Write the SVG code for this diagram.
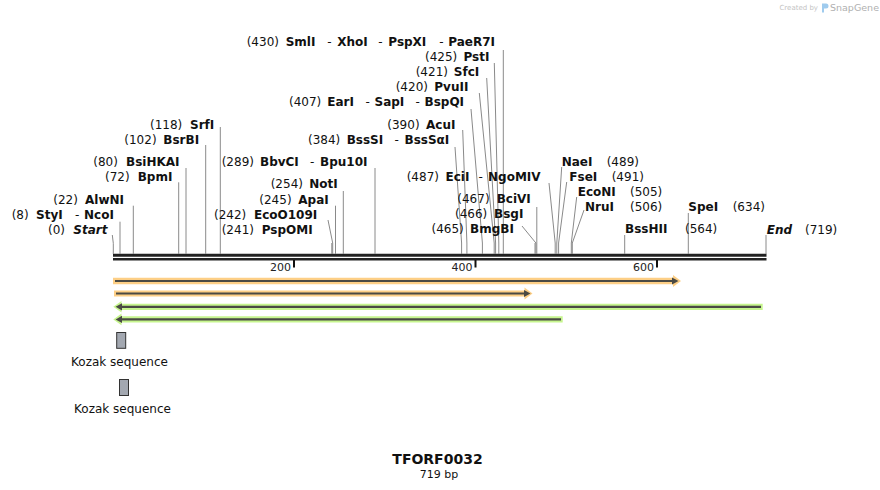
<svg xmlns="http://www.w3.org/2000/svg" width="880" height="490" viewBox="0 0 880 490">
<style>
text{font-family:"DejaVu Sans","Verdana",sans-serif;fill:#111}
.lb{font-size:12px}
.b{font-weight:bold}
.bi{font-weight:bold;font-style:italic}
.ax{font-size:11px;fill:#222}
.cn line,.cn polyline{stroke:#8a8a8a;stroke-width:1;fill:none}
.bb{stroke:#222}
.tick{stroke:#111;stroke-width:2}
.orng{fill:#fdcf86}
.grn{fill:#c6f58e}
.core{stroke:#4a4a44;stroke-width:2.2}
.coreh{fill:#4a4a44}
.koz{fill:#a3a8b1;stroke:#333;stroke-width:1}
.kt{font-size:12px;text-anchor:middle}
</style>

<!-- backbone -->
<g id="backbone">
<line class="bb" x1="113" y1="255.3" x2="766.5" y2="255.3" stroke-width="3"/>
<line class="bb" x1="113" y1="259.3" x2="766.5" y2="259.3" stroke-width="2.4"/>
<line class="tick" x1="294" y1="260" x2="294" y2="267.5"/>
<line class="tick" x1="475.5" y1="260" x2="475.5" y2="267.5"/>
<line class="tick" x1="657" y1="260" x2="657" y2="267.5"/>
<text class="ax" x="291" y="271" text-anchor="end">200</text>
<text class="ax" x="472.5" y="271" text-anchor="end">400</text>
<text class="ax" x="654" y="271" text-anchor="end">600</text>
</g>

<!-- connectors -->
<g id="connectors" class="cn">
<polyline points="112.3,235 113.3,243.3 113.3,254"/>
<line x1="120" y1="221.7" x2="120" y2="254"/>
<line x1="133.3" y1="205.7" x2="133.3" y2="254"/>
<line x1="178.7" y1="182.3" x2="178.7" y2="254"/>
<line x1="186" y1="168" x2="186" y2="254"/>
<line x1="205.7" y1="145" x2="205.7" y2="254"/>
<line x1="220.3" y1="127" x2="220.3" y2="254"/>
<line x1="331.8" y1="243" x2="331.8" y2="254"/>
<polyline points="328,220 332.7,243 332.7,254"/>
<line x1="335.5" y1="205.7" x2="335.5" y2="254"/>
<line x1="343.3" y1="191" x2="343.3" y2="254"/>
<line x1="375" y1="168" x2="375" y2="254"/>
<polyline points="455,147 461.6,243 461.6,254"/>
<polyline points="462.7,130 466.9,243 466.9,254"/>
<polyline points="471,109 482.4,243 482.4,254"/>
<polyline points="479.3,93 494.2,243 494.2,254"/>
<polyline points="486.7,78 495.6,243 495.6,254"/>
<polyline points="494.3,63 498.8,243 498.8,254"/>
<line x1="503.3" y1="50" x2="503.3" y2="254"/>
<line x1="535" y1="243" x2="535" y2="254"/>
<polyline points="522,226 535.9,243 535.9,254"/>
<line x1="536.8" y1="207" x2="536.8" y2="254"/>
<polyline points="549,183 555.2,243 555.2,254"/>
<polyline points="561.7,167 556.8,243 556.8,254"/>
<polyline points="566.7,182 558.6,243 558.6,254"/>
<polyline points="576.7,197 571.3,243 571.3,254"/>
<polyline points="584,210 572.3,243 572.3,254"/>
<line x1="624.7" y1="235" x2="624.7" y2="254"/>
<line x1="688.3" y1="213" x2="688.3" y2="254"/>
<line x1="766" y1="235" x2="766" y2="254"/>
</g>

<!-- site labels -->
<g id="site-0"><text class="lb" y="234"><tspan x="48">(0)</tspan><tspan class="bi" x="73.3">Start</tspan></text></g>
<g id="site-8"><text class="lb" y="219"><tspan x="11.7">(8)</tspan><tspan class="b" x="36">StyI</tspan><tspan x="75">-</tspan><tspan class="b" x="84">NcoI</tspan></text></g>
<g id="site-22"><text class="lb" y="204"><tspan x="53.3">(22)</tspan><tspan class="b" x="85">AlwNI</tspan></text></g>
<g id="site-72"><text class="lb" y="181"><tspan x="105">(72)</tspan><tspan class="b" x="137.7">BpmI</tspan></text></g>
<g id="site-80"><text class="lb" y="166"><tspan x="93.3">(80)</tspan><tspan class="b" x="126">BsiHKAI</tspan></text></g>
<g id="site-102"><text class="lb" y="144"><tspan x="124.3">(102)</tspan><tspan class="b" x="163.3">BsrBI</tspan></text></g>
<g id="site-118"><text class="lb" y="129"><tspan x="150">(118)</tspan><tspan class="b" x="190">SrfI</tspan></text></g>
<g id="site-241"><text class="lb" y="234"><tspan x="221.7">(241)</tspan><tspan class="b" x="261.7">PspOMI</tspan></text></g>
<g id="site-242"><text class="lb" y="219"><tspan x="214">(242)</tspan><tspan class="b" x="254">EcoO109I</tspan></text></g>
<g id="site-245"><text class="lb" y="204"><tspan x="259.3">(245)</tspan><tspan class="b" x="298.3">ApaI</tspan></text></g>
<g id="site-254"><text class="lb" y="188"><tspan x="270.7">(254)</tspan><tspan class="b" x="309.3">NotI</tspan></text></g>
<g id="site-289"><text class="lb" y="166"><tspan x="221.7">(289)</tspan><tspan class="b" x="260">BbvCI</tspan><tspan x="310">-</tspan><tspan class="b" x="320">Bpu10I</tspan></text></g>
<g id="site-384"><text class="lb" y="144"><tspan x="308">(384)</tspan><tspan class="b" x="346.7">BssSI</tspan><tspan x="394.5">-</tspan><tspan class="b" x="404.5">BssSαI</tspan></text></g>
<g id="site-390"><text class="lb" y="129"><tspan x="387.3">(390)</tspan><tspan class="b" x="426">AcuI</tspan></text></g>
<g id="site-407"><text class="lb" y="106"><tspan x="289">(407)</tspan><tspan class="b" x="327.3">EarI</tspan><tspan x="365.5">-</tspan><tspan class="b" x="374.5">SapI</tspan><tspan x="415.5">-</tspan><tspan class="b" x="424.5">BspQI</tspan></text></g>
<g id="site-420"><text class="lb" y="91"><tspan x="395.7">(420)</tspan><tspan class="b" x="434.3">PvuII</tspan></text></g>
<g id="site-421"><text class="lb" y="76"><tspan x="415.7">(421)</tspan><tspan class="b" x="453.8">SfcI</tspan></text></g>
<g id="site-425"><text class="lb" y="61"><tspan x="425">(425)</tspan><tspan class="b" x="463.5">PstI</tspan></text></g>
<g id="site-430"><text class="lb" y="46"><tspan x="246.7">(430)</tspan><tspan class="b" x="285.7">SmlI</tspan><tspan x="327.3">-</tspan><tspan class="b" x="337.3">XhoI</tspan><tspan x="378.3">-</tspan><tspan class="b" x="388.3">PspXI</tspan><tspan x="439.3">-</tspan><tspan class="b" x="448.3">PaeR7I</tspan></text></g>
<g id="site-465"><text class="lb" y="233"><tspan x="431.5">(465)</tspan><tspan class="b" x="470">BmgBI</tspan></text></g>
<g id="site-466"><text class="lb" y="218"><tspan x="455">(466)</tspan><tspan class="b" x="494">BsgI</tspan></text></g>
<g id="site-467"><text class="lb" y="203"><tspan x="457.3">(467)</tspan><tspan class="b" x="496.7">BciVI</tspan></text></g>
<g id="site-487"><text class="lb" y="181"><tspan x="406.7">(487)</tspan><tspan class="b" x="445.5">EciI</tspan><tspan x="478.5">-</tspan><tspan class="b" x="488">NgoMIV</tspan></text></g>
<g id="site-489"><text class="lb" y="166"><tspan class="b" x="561.7">NaeI</tspan><tspan x="606.7">(489)</tspan></text></g>
<g id="site-491"><text class="lb" y="181"><tspan class="b" x="569.3">FseI</tspan><tspan x="611.7">(491)</tspan></text></g>
<g id="site-505"><text class="lb" y="196"><tspan class="b" x="577.7">EcoNI</tspan><tspan x="630">(505)</tspan></text></g>
<g id="site-506"><text class="lb" y="211"><tspan class="b" x="585">NruI</tspan><tspan x="630">(506)</tspan></text></g>
<g id="site-564"><text class="lb" y="233"><tspan class="b" x="625">BssHII</tspan><tspan x="685">(564)</tspan></text></g>
<g id="site-634"><text class="lb" y="211"><tspan class="b" x="688.3">SpeI</tspan><tspan x="732.7">(634)</tspan></text></g>
<g id="site-719"><text class="lb" y="234"><tspan class="bi" x="766.7">End</tspan><tspan x="805">(719)</tspan></text></g>

<!-- features -->
<g id="feature-orange-1">
<polygon class="orng" points="113,277.8 673,277.8 673,275 681,281 673,287 673,284.2 113,284.2"/>
<line class="core" x1="115" y1="281" x2="674" y2="281"/>
<polygon class="coreh" points="672,277.5 678.5,281 672,284.5"/>
</g>
<g id="feature-orange-2">
<polygon class="orng" points="114,290.5 524.5,290.5 524.5,287.5 532.5,293.5 524.5,299.5 524.5,296.5 114,296.5"/>
<line class="core" x1="116" y1="293.5" x2="526" y2="293.5"/>
<polygon class="coreh" points="524,290 530.5,293.5 524,297"/>
</g>
<g id="feature-green-1">
<polygon class="grn" points="762.7,303.7 121.5,303.7 121.5,301 113.3,306.8 121.5,312.6 121.5,309.9 762.7,309.9"/>
<line class="core" x1="120" y1="306.8" x2="761" y2="306.8"/>
<polygon class="coreh" points="122,303.2 115.6,306.8 122,310.4"/>
</g>
<g id="feature-green-2">
<polygon class="grn" points="562.7,316.3 121.5,316.3 121.5,313.6 113.3,319.4 121.5,325.2 121.5,322.5 562.7,322.5"/>
<line class="core" x1="120" y1="319.4" x2="561" y2="319.4"/>
<polygon class="coreh" points="122,315.8 115.6,319.4 122,323"/>
</g>

<g id="kozak-1">
<rect class="koz" x="116.7" y="332.5" width="9" height="15.8"/>
<text class="kt" x="119.5" y="366">Kozak sequence</text>
</g>
<g id="kozak-2">
<rect class="koz" x="119.5" y="379.5" width="9" height="16"/>
<text class="kt" x="122.5" y="413">Kozak sequence</text>
</g>

<g id="title">
<text x="437.5" y="464" text-anchor="middle" style="font-size:14px;font-weight:bold">TFORF0032</text>
<text x="439" y="478" text-anchor="middle" style="font-size:11px">719 bp</text>
</g>

<g id="credit">
<text x="818" y="10" text-anchor="end" style="font-size:7px;fill:#c4c4c4">Created by</text>
<path d="M822,3.5 h4 a2,2 0 0 1 0,5 h-2 v4 h-2 z" fill="#9fcbee"/>
<text x="830" y="11" style="font-size:9.5px;fill:#b0b0b0">SnapGene</text>
</g>
</svg>
